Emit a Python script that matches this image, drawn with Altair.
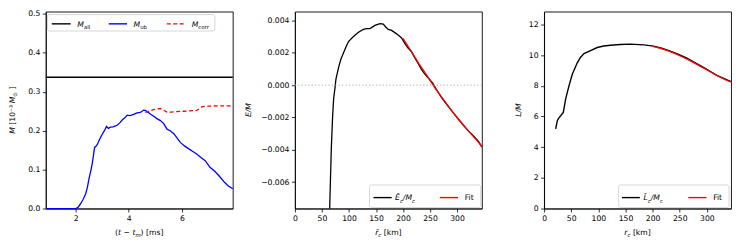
import altair as alt
import pandas as pd

FONT = "DejaVu Sans"
FS = 7.7

# ---------------- data ----------------
# Panel 1: ejected mass
t_ub = [0.87, 1.5, 2.0, 2.1, 2.19, 2.28, 2.375, 2.44, 2.5, 2.56, 2.62, 2.67, 2.71, 2.76, 2.81,
        2.9, 3.0, 3.08, 3.16, 3.23, 3.31, 3.4, 3.48, 3.56, 3.66, 3.76, 3.85, 3.94, 4.05,
        4.18, 4.31, 4.44, 4.56, 4.62, 4.69, 4.81, 4.94, 5.06, 5.19, 5.31, 5.44, 5.56,
        5.69, 5.81, 5.94, 6.1, 6.25, 6.4, 6.56, 6.72, 6.88, 7.06, 7.25, 7.44, 7.6, 7.75, 7.92]
M_ub = [0.0, 0.0, 0.0, 0.004, 0.013, 0.024, 0.038, 0.055, 0.077, 0.095, 0.115, 0.138, 0.157, 0.16, 0.164,
        0.178, 0.191, 0.2, 0.211, 0.206, 0.209, 0.21, 0.212, 0.214, 0.22, 0.228, 0.233, 0.24, 0.239,
        0.242, 0.246, 0.247, 0.253, 0.252, 0.249, 0.243, 0.237, 0.231, 0.226, 0.219, 0.204, 0.2,
        0.193, 0.182, 0.17, 0.161, 0.154, 0.147, 0.14, 0.131, 0.123, 0.106, 0.095, 0.081, 0.068, 0.058, 0.051]
t_corr = [4.62, 4.75, 4.94, 5.06, 5.19, 5.3, 5.44, 5.6, 5.8, 6.06, 6.3, 6.56, 6.65, 6.75, 6.9, 7.1, 7.31, 7.6, 7.92]
M_corr = [0.247, 0.25, 0.254, 0.256, 0.257, 0.253, 0.248, 0.248, 0.249, 0.25, 0.251, 0.252, 0.256, 0.261, 0.263, 0.263, 0.264, 0.264, 0.264]
t_all = [0.87, 7.92]
M_all = [0.3375, 0.3375]

# Panel 2: specific energy
r_E = [63.0, 64.3, 67.3, 69.8, 71.6, 74.0, 75.9, 80.8, 85.0, 90.0, 95.0, 99.2, 105.0, 111.5, 119.0, 126.7,
       133.0, 139.0, 148.0, 157.4, 163.5, 168.0, 172.7, 178.0, 185.0, 191.0, 197.0, 203.0, 209.0,
       215.0, 221.7, 227.0, 233.8, 240.0, 246.0, 255.0, 261.4, 272.0, 282.9, 295.0, 307.4, 320.0,
       331.9, 340.0, 346.0]
E_M = [-0.0085, -0.00764, -0.00394, -0.00189, -0.00086, -0.0002, 0.00037, 0.0011, 0.0016, 0.002, 0.0024, 0.0027,
       0.0029, 0.0031, 0.0033, 0.00345, 0.0035, 0.0035, 0.0037, 0.0038, 0.00378, 0.0036, 0.00345, 0.0034,
       0.00325, 0.0031, 0.00294, 0.0026, 0.0023, 0.0021, 0.0017, 0.0014, 0.00099, 0.0007, 0.00047, 0.00012,
       -0.00025, -0.0008, -0.00128, -0.0018, -0.0023, -0.0028, -0.0032, -0.0035, -0.00384]
r_Efit = [200.0, 215.0, 230.0, 245.0, 260.0, 275.0, 290.0, 305.0, 320.0, 335.0, 346.0]
E_fit = [0.0029, 0.0021, 0.0013, 0.00055, -0.00022, -0.0009, -0.00158, -0.00222, -0.0028, -0.00336, -0.0038]

# Panel 3: specific angular momentum
r_L = [21.4, 24.4, 27.0, 30.6, 35.5, 39.7, 45.9, 52.0, 61.2, 67.0, 73.5, 85.7, 97.9, 110.0, 122.4, 140.0,
       159.0, 183.7, 202.0, 217.0, 232.6, 248.0, 263.2, 278.0, 293.9, 306.0, 318.4, 332.0, 344.6]
L_M = [5.19, 5.73, 5.9, 6.05, 6.27, 7.13, 8.0, 8.75, 9.5, 9.85, 10.1, 10.3, 10.5, 10.6, 10.65, 10.7,
       10.72, 10.67, 10.59, 10.45, 10.27, 10.05, 9.8, 9.52, 9.2, 8.95, 8.69, 8.47, 8.27]
r_Lfit = [200.0, 215.0, 230.0, 245.0, 260.0, 275.0, 290.0, 305.0, 320.0, 335.0, 344.6]
L_fit = [10.58, 10.44, 10.27, 10.05, 9.8, 9.53, 9.24, 8.95, 8.65, 8.38, 8.25]

# ---------------- helpers ----------------
WIDTHS = {"M": 0.863, "E": 0.632, "Ē": 0.632, "L": 0.557, "t": 0.392, "r": 0.411, "c": 0.55, "a": 0.613,
          "l": 0.278, "u": 0.634, "b": 0.635, "o": 0.612, "m": 0.974, "k": 0.579, "s": 0.521,
          "[": 0.39, "]": 0.39, "(": 0.39, ")": 0.39, " ": 0.318, "/": 0.337, "−": 0.838,
          "F": 0.575, "i": 0.278, "⊙": 0.9, "⁻": 0.4, "³": 0.4, "1": 0.636, "0": 0.636, "\u0304": 0.0}


def tw(s, size):
    return sum(WIDTHS.get(ch, 0.6) for ch in s) * size


def rich(pieces, x, y, size=FS, anchor="left", rotate=False):
    """pieces: (text, style) with style i/n (italic/normal), si/sn subscript.
    Leading/trailing spaces become cursor advances (SVG trims them)."""
    items = []
    for t, st in pieces:
        fs = size * 0.7 if st.startswith("s") else size
        core = t.strip(" ")
        lead = (len(t) - len(t.lstrip(" "))) * 0.318 * fs
        trail = (len(t) - len(t.rstrip(" "))) * 0.318 * fs
        items.append((core, st, fs, lead, tw(core, fs), trail))
    total = sum(a[3] + a[4] + a[5] for a in items)
    rows = []
    if not rotate:
        cur = x - total / 2 if anchor == "center" else x
        for core, st, fs, lead, w, trail in items:
            cur += lead
            shift = 2.2 if st in ("si", "sn") else 0
            rows.append(dict(px=cur, py=y + shift, t=core, fs=fs, it=st in ("i", "si"), ang=0))
            cur += w + trail
    else:
        cur = y + total / 2
        for core, st, fs, lead, w, trail in items:
            cur -= lead
            shift = 2.2 if st in ("si", "sn") else 0
            rows.append(dict(px=x + shift, py=cur, t=core, fs=fs, it=st in ("i", "si"), ang=270))
            cur -= w + trail
    return rows


def text_layers(rows):
    df = pd.DataFrame(rows)
    out = []
    for it in (False, True):
        sub = df[df["it"] == it]
        if len(sub) == 0:
            continue
        out.append(
            alt.Chart(sub).mark_text(align="left", baseline="alphabetic", font=FONT,
                                     fontStyle="italic" if it else "normal", color="black")
            .encode(x=alt.X("px:Q", scale=None, axis=None), y=alt.Y("py:Q", scale=None, axis=None),
                    text="t:N", size=alt.Size("fs:Q", scale=None, legend=None),
                    angle=alt.Angle("ang:Q", scale=None, legend=None))
        )
    return out


def legend_box(x1, x2, y1, y2):
    d = pd.DataFrame({"a": [x1], "b": [x2], "c": [y1], "d": [y2]})
    return alt.Chart(d).mark_rect(fill="white", fillOpacity=0.8, stroke="#cccccc", strokeWidth=0.8,
                                  cornerRadius=2).encode(
        x=alt.X("a:Q", scale=None, axis=None), x2="b:Q",
        y=alt.Y("c:Q", scale=None, axis=None), y2="d:Q")


def legend_line(x1, x2, y, color, dash=None):
    d = pd.DataFrame({"a": [x1], "b": [x2], "c": [y]})
    kw = dict(color=color, strokeWidth=1.4)
    if dash:
        kw["strokeDash"] = dash
    return alt.Chart(d).mark_rule(**kw).encode(
        x=alt.X("a:Q", scale=None, axis=None), x2="b:Q", y=alt.Y("c:Q", scale=None, axis=None))


W, H = 188, 198


def xax(values, fmt=None):
    kw = dict(values=values, title=None, labelOverlap=False)
    if fmt:
        kw["format"] = fmt
    return alt.Axis(**kw)


def yax(values, fmt):
    return alt.Axis(values=values, format=fmt, title=None, labelOverlap=False)


# ---------------- panel 1 ----------------
sx1 = alt.Scale(domain=[0.87, 7.92], nice=False, zero=False)
sy1 = alt.Scale(domain=[0, 0.506], nice=False)
d_all = pd.DataFrame({"t": t_all, "m": M_all})
d_ub = pd.DataFrame({"t": t_ub, "m": M_ub})
d_corr = pd.DataFrame({"t": t_corr, "m": M_corr})

enc1 = dict(x=alt.X("t:Q", scale=sx1, axis=xax([2, 4, 6], "d")),
            y=alt.Y("m:Q", scale=sy1, axis=yax([0, 0.1, 0.2, 0.3, 0.4, 0.5], ".1f")))
l_all = alt.Chart(d_all).mark_line(color="black", strokeWidth=1.5).encode(**enc1)
l_ub = alt.Chart(d_ub).mark_line(color="#0000ff", strokeWidth=1.3).encode(**enc1)
l_corr = alt.Chart(d_corr).mark_line(color="#ff0000", strokeWidth=1.3, strokeDash=[4, 2.5]).encode(**enc1)

t1 = []
t1 += rich([("M", "i"), ("all", "sn")], 31.7, 15.0)
t1 += rich([("M", "i"), ("ub", "sn")], 88.3, 15.0)
t1 += rich([("M", "i"), ("corr", "sn")], 146.7, 15.0)
t1 += rich([("(", "n"), ("t", "i"), (" − ", "n"), ("t", "i"), ("m", "si"), (") [ms]", "n")], W / 2, 224.5, anchor="center")
t1 += rich([("M", "i"), (" [10⁻³ ", "n"), ("M", "i"), ("⊙", "sn"), (" ]", "n")], -31.0, H / 2, rotate=True)

p1 = alt.layer(
    l_all, l_ub, l_corr,
    legend_box(1.7, 170, 3, 19.5),
    legend_line(6, 25, 12.3, "black"),
    legend_line(63.3, 81.7, 12.3, "#0000ff"),
    legend_line(121.7, 140, 12.3, "#ff0000", [4, 2.5]),
    *text_layers(t1),
).properties(width=W, height=H)

# ---------------- panel 2 ----------------
sx2 = alt.Scale(domain=[0, 346], nice=False)
sy2 = alt.Scale(domain=[-0.00764, 0.00455], nice=False)
d_E = pd.DataFrame({"r": r_E, "e": E_M})
d_Ef = pd.DataFrame({"r": r_Efit, "e": E_fit})
yax2 = yax([-0.006, -0.004, -0.002, 0, 0.002, 0.004], ".3f")
enc2 = dict(x=alt.X("r:Q", scale=sx2, axis=xax([0, 50, 100, 150, 200, 250, 300], "d")),
            y=alt.Y("e:Q", scale=sy2, axis=yax2))
zero = alt.Chart(pd.DataFrame({"e": [0.0]})).mark_rule(color="#aaaaaa", strokeWidth=1, strokeDash=[1.2, 2.2]).encode(
    y=alt.Y("e:Q", scale=sy2, axis=yax2))
l_E = alt.Chart(d_E).mark_line(color="black", strokeWidth=1.3, clip=True).encode(**enc2)
l_Ef = alt.Chart(d_Ef).mark_line(color="#ff0000", strokeWidth=1.3).encode(**enc2)

t2 = []
t2 += rich([("Ē", "i"), ("c", "si"), ("/M", "i"), ("c", "si")], 100.7, 189.8)
t2 += rich([("Fit", "n")], 170.7, 189.8)
t2 += rich([("r\u0304", "i"), ("c", "si"), (" [km]", "n")], W / 2, 224.5, anchor="center")
t2 += rich([("E/M", "i")], -44.5, H / 2, rotate=True)

p2 = alt.layer(
    l_E, l_Ef, zero,
    legend_box(75, 186.7, 174.3, 197),
    legend_line(79, 97.3, 187, "black"),
    legend_line(145.7, 164, 187, "#ff0000"),
    *text_layers(t2),
).properties(width=W, height=H)

# ---------------- panel 3 ----------------
sx3 = alt.Scale(domain=[0, 344.6], nice=False)
sy3 = alt.Scale(domain=[0, 12.84], nice=False)
d_L = pd.DataFrame({"r": r_L, "l": L_M})
d_Lf = pd.DataFrame({"r": r_Lfit, "l": L_fit})
enc3 = dict(x=alt.X("r:Q", scale=sx3, axis=xax([0, 50, 100, 150, 200, 250, 300], "d")),
            y=alt.Y("l:Q", scale=sy3, axis=yax([0, 2, 4, 6, 8, 10, 12], "d")))
l_L = alt.Chart(d_L).mark_line(color="black", strokeWidth=1.4).encode(**enc3)
l_Lf = alt.Chart(d_Lf).mark_line(color="#ff0000", strokeWidth=1.3).encode(**enc3)

t3 = []
t3 += rich([("L\u0304", "i"), ("c", "si"), ("/M", "i"), ("c", "sn")], 100.0, 189.8)
t3 += rich([("Fit", "n")], 170.0, 189.8)
t3 += rich([("r", "i"), ("c", "si"), (" [km]", "n")], W / 2, 224.5, anchor="center")
t3 += rich([("L/M", "i")], -23.3, H / 2, rotate=True)

p3 = alt.layer(
    l_L, l_Lf,
    legend_box(75, 186, 174.3, 197),
    legend_line(78.3, 96.3, 187, "black"),
    legend_line(145, 163.3, 187, "#ff0000"),
    *text_layers(t3),
).properties(width=W, height=H)

chart = alt.hconcat(p1, p2, p3, spacing=62.5, bounds="flush").properties(
    padding={"left": 0, "top": 0, "right": 4, "bottom": 0}
).configure_view(stroke="black", strokeWidth=0.9).configure_axis(
    labelFont=FONT, labelFontSize=FS, labelColor="black", tickColor="black", tickSize=3.5,
    tickWidth=0.8, domainColor="black", domainWidth=0.8, labelPadding=2.5, grid=False
).configure_axisX(labelFlush=False).configure_axisY(labelFlush=False)

chart.save("out.html", embed_options={"renderer": "svg", "actions": False})
